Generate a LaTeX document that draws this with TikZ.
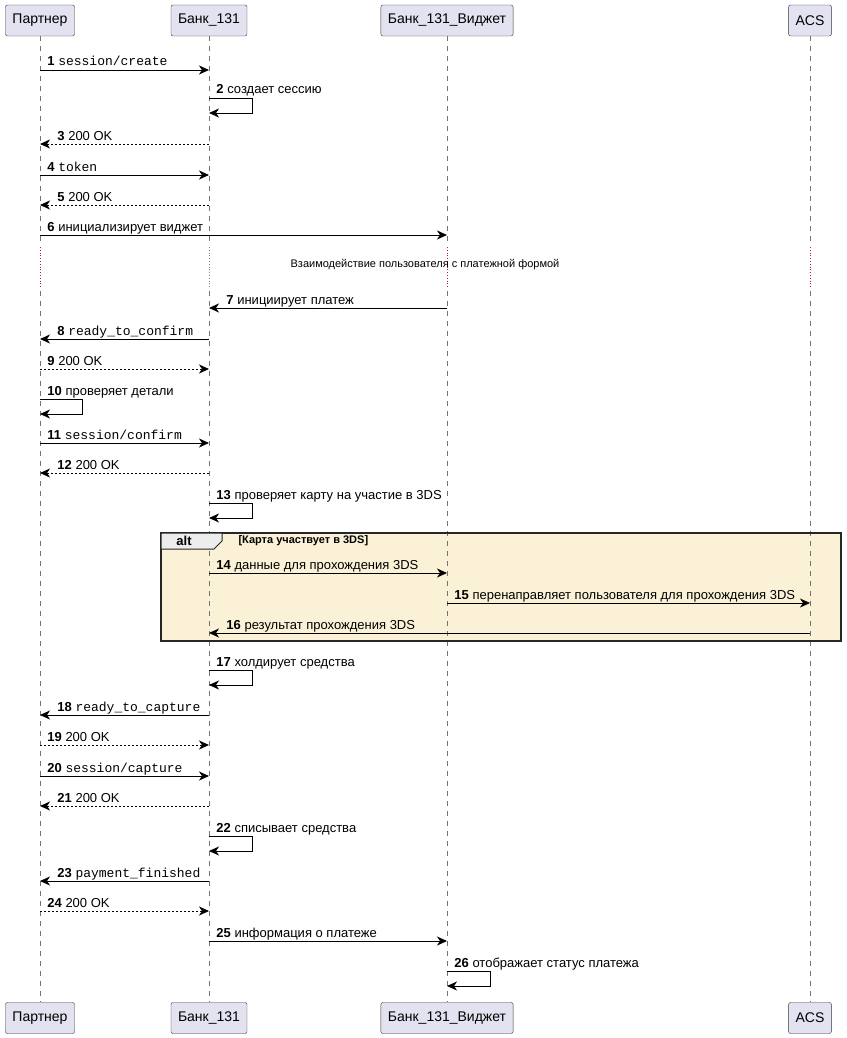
\documentclass[tikz,border=0pt]{standalone}
\usepackage{fontspec}
\setmainfont{Liberation Sans}
\setmonofont{Liberation Mono}
\usetikzlibrary{positioning,arrows.meta}
\definecolor{partfill}{HTML}{E2E2F0}
\definecolor{altfill}{RGB}{251,241,215}
\definecolor{divred}{RGB}{180,20,70}
\newcommand{\num}[1]{\textbf{#1}}
\newcommand{\api}[1]{\texttt{#1}}

\begin{document}
\begin{tikzpicture}[x=1pt,y=-1pt,
          font=\fontsize{13}{15}\selectfont,
          part/.style={draw=black!80,fill=partfill,rounded corners=2pt,minimum height=31pt,inner xsep=7pt,font=\fontsize{14}{16}\selectfont},
          life/.style={black!55,dash pattern=on 5pt off 5pt,line width=.6pt},
          msg/.style={line width=.9pt,-{Stealth[length=10pt,width=9pt,inset=3pt]}},
          ret/.style={msg,dash pattern=on 2pt off 2pt},
          lr/.style={pos=0,anchor=base west,xshift=7pt,yshift=4pt,inner sep=0pt},
          rl/.style={pos=1,anchor=base west,xshift=17pt,yshift=4pt,inner sep=0pt}
            ]
    \useasboundingbox (0,0) rectangle (846,1038);
    % participants
    \node[part] (p) at (40,20.5) {Партнер};
    \node[part] (b) at (209,20.5) {Банк\_131};
    \node[part] (w) at (447,20.5) {Банк\_131\_Виджет};
    \node[part] (a) at (810,20.5) {ACS};
    \node[part] (p2) at (40,1018) {Партнер};
    \node[part] (b2) at (209,1018) {Банк\_131};
    \node[part] (w2) at (447,1018) {Банк\_131\_Виджет};
    \node[part] (a2) at (810,1018) {ACS};
    % alt background
    \fill[altfill] (161,533) rectangle (841,641);
    % lifelines
    \foreach \l/\c in {p/divred,b/gray,w/divred,a/divred}{
      \draw[life] (\l) -- (\l |- 0,243);
      \draw[\c,dotted,line width=.8pt] (\l |- 0,247) -- (\l |- 0,287);
      \draw[life] (\l |- 0,291) -- (\l 2);
    }
    % messages
    \draw[msg] (p |- 0,70) -- node[lr] {\num{1} \api{session/create}} (b |- 0,70);
    \draw[msg] (b |- 0,98) -- node[lr] {\num{2} создает сессию} ++(43,0) -- ++(0,15) -- (b |- 0,113);
    \draw[ret] (b |- 0,144) -- node[rl] {\num{3} 200 OK} (p |- 0,144);
    \draw[msg] (p |- 0,175) -- node[lr] {\num{4} \api{token}} (b |- 0,175);
    \draw[ret] (b |- 0,205) -- node[rl] {\num{5} 200 OK} (p |- 0,205);
    \draw[msg] (p |- 0,235) -- node[lr] {\num{6} инициализирует виджет} (w |- 0,235);
    \node[font=\fontsize{11}{13}\selectfont] (dv) at (425,265) {Взаимодействие пользователя с платежной формой};
    \draw[msg] (w |- 0,308) -- node[rl] {\num{7} инициирует платеж} (b |- 0,308);
    \draw[msg] (b |- 0,339) -- node[rl] {\num{8} \api{ready\_to\_confirm}} (p |- 0,339);
    \draw[ret] (p |- 0,369) -- node[lr] {\num{9} 200 OK} (b |- 0,369);
    \draw[msg] (p |- 0,399) -- node[lr] {\num{10} проверяет детали} ++(42,0) -- ++(0,15) -- (p |- 0,414);
    \draw[msg] (p |- 0,443) -- node[lr] {\num{11} \api{session/confirm}} (b |- 0,443);
    \draw[ret] (b |- 0,473) -- node[rl] {\num{12} 200 OK} (p |- 0,473);
    \draw[msg] (b |- 0,503) -- node[lr] {\num{13} проверяет карту на участие в 3DS} ++(43,0) -- ++(0,15) -- (b |- 0,518);
    % alt frame
    \draw[black!85,line width=1.5pt] (161,533) rectangle (841,641);
    \draw[black!85,fill=black!7,line width=1pt] (161,533) -- (222,533) -- (222,541) -- (214,549) -- (161,549) -- cycle;
    \node[font=\fontsize{13}{15}\selectfont\bfseries] (alt) at (184,541) {alt};
    \node[font=\fontsize{11}{13}\selectfont\bfseries,anchor=west] (cond) at (235,541) {[Карта участвует в 3DS]};
    \draw[msg] (b |- 0,573) -- node[lr] {\num{14} данные для прохождения 3DS} (w |- 0,573);
    \draw[msg] (w |- 0,603) -- node[lr] {\num{15} перенаправляет пользователя для прохождения 3DS} (a |- 0,603);
    \draw[msg] (a |- 0,633) -- node[rl] {\num{16} результат прохождения 3DS} (b |- 0,633);
    % after alt
    \draw[msg] (b |- 0,670) -- node[lr] {\num{17} холдирует средства} ++(43,0) -- ++(0,15) -- (b |- 0,685);
    \draw[msg] (b |- 0,715) -- node[rl] {\num{18} \api{ready\_to\_capture}} (p |- 0,715);
    \draw[ret] (p |- 0,745) -- node[lr] {\num{19} 200 OK} (b |- 0,745);
    \draw[msg] (p |- 0,776) -- node[lr] {\num{20} \api{session/capture}} (b |- 0,776);
    \draw[ret] (b |- 0,806) -- node[rl] {\num{21} 200 OK} (p |- 0,806);
    \draw[msg] (b |- 0,836) -- node[lr] {\num{22} списывает средства} ++(43,0) -- ++(0,15) -- (b |- 0,851);
    \draw[msg] (b |- 0,881) -- node[rl] {\num{23} \api{payment\_finished}} (p |- 0,881);
    \draw[ret] (p |- 0,911) -- node[lr] {\num{24} 200 OK} (b |- 0,911);
    \draw[msg] (b |- 0,941) -- node[lr] {\num{25} информация о платеже} (w |- 0,941);
    \draw[msg] (w |- 0,971) -- node[lr] {\num{26} отображает статус платежа} ++(43,0) -- ++(0,15) -- (w |- 0,986);
\end{tikzpicture}
\end{document}
